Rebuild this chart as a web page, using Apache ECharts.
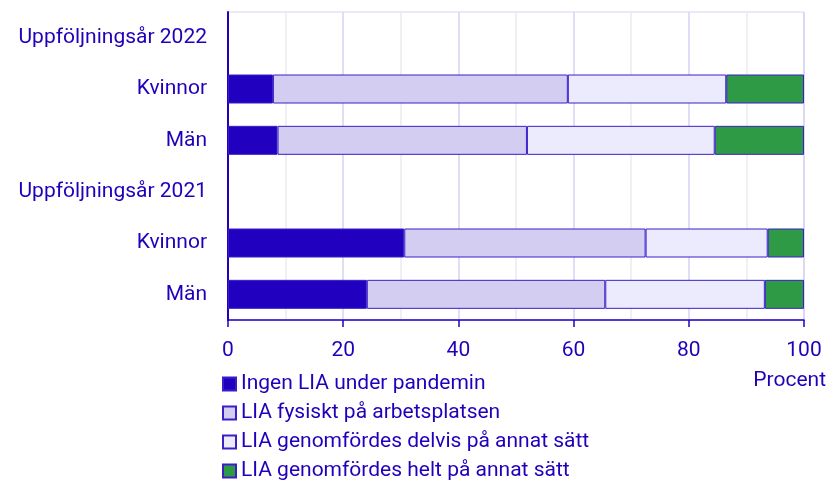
<!DOCTYPE html>
<html>
<head>
<meta charset="utf-8">
<script src="https://cdn.jsdelivr.net/npm/echarts@6/dist/echarts.min.js"></script>
<style>
  html, body { margin: 0; padding: 0; background: #fff; }
  #chart { width: 828px; height: 481px; }
</style>
</head>
<body>
<div id="chart"></div>
<script>
// kategorier uppifrån och ned
const categories = ["h2022", "k2022", "m2022", "h2021", "k2021", "m2021"];
const categoryLabels = ["Uppföljningsår 2022", "Kvinnor", "Män", "Uppföljningsår 2021", "Kvinnor", "Män"];

const seriesNames = [
  "Ingen LIA under pandemin",
  "LIA fysiskt på arbetsplatsen",
  "LIA genomfördes delvis på annat sätt",
  "LIA genomfördes helt på annat sätt"
];

const ingenLia = [null, 7.8, 8.6, null, 30.6, 24.1];
const fysiskt = [null, 51.2, 43.3, null, 41.9, 41.4];
const delvis = [null, 27.5, 32.6, null, 21.2, 27.7];
const helt = [null, 13.5, 15.5, null, 6.3, 6.8];

const xTicks = [0, 20, 40, 60, 80, 100];

(function () {
  const textColor = "#2200bb";
  const font = "Roboto, 'Noto Sans', sans-serif";
  const fs = 21;
  const colors = ["#2100c0", "#d2cdf1", "#ecebfe", "#2f9a46"];
  const values = [ingenLia, fysiskt, delvis, helt];

  const myChart = echarts.init(document.getElementById("chart"));

  const option = {
    animation: false,
    textStyle: { fontFamily: font },
    grid: {
      left: 228,
      right: 24,
      top: 12,
      bottom: 161,
      show: true,
      borderColor: "#d6d2f4",
      borderWidth: 1
    },
    legend: {
      orient: "vertical",
      left: 222,
      top: 372,
      height: 160,
      padding: 0,
      itemWidth: 13,
      itemHeight: 13,
      itemGap: 5,
      icon: "rect",
      textStyle: { color: textColor, fontSize: fs, fontFamily: font, lineHeight: 24 },
      data: seriesNames
    },
    xAxis: {
      type: "value",
      min: 0,
      max: 100,
      interval: 20,
      axisLine: { show: true, lineStyle: { color: "#2100c0", width: 1.5 } },
      axisTick: { show: true, length: 7, lineStyle: { color: "#2100c0", width: 1.5 } },
      axisLabel: {
        color: textColor,
        fontSize: fs,
        margin: 20,
        formatter: function (v) { return xTicks.indexOf(v) >= 0 ? String(v) : ""; }
      },
      splitLine: { show: true, lineStyle: { color: "#d6d2f4", width: 1.5 } },
      minorTick: { show: false, splitNumber: 2 },
      minorSplitLine: { show: true, lineStyle: { color: "#ececf0", width: 1.5 } }
    },
    yAxis: {
      type: "category",
      inverse: true,
      data: categories,
      axisLine: { show: true, lineStyle: { color: "#2100c0", width: 2 } },
      axisTick: { show: false },
      axisLabel: {
        color: textColor,
        fontSize: fs,
        margin: 21,
        formatter: function (v, i) { return categoryLabels[i]; }
      },
      splitLine: { show: false }
    },
    graphic: [
      {
        type: "text",
        right: 2,
        top: 370,
        style: { text: "Procent", fill: textColor, font: fs + "px " + font }
      }
    ],
    series: seriesNames.map(function (name, i) {
      return {
        name: name,
        type: "bar",
        stack: "total",
        barWidth: 29,
        itemStyle: {
          color: colors[i],
          borderColor: "#3a1fc8",
          borderWidth: 1
        },
        data: values[i]
      };
    })
  };

  myChart.setOption(option);

  window.addEventListener("resize", function () {
    myChart.resize();
  });
})();
</script>
</body>
</html>
